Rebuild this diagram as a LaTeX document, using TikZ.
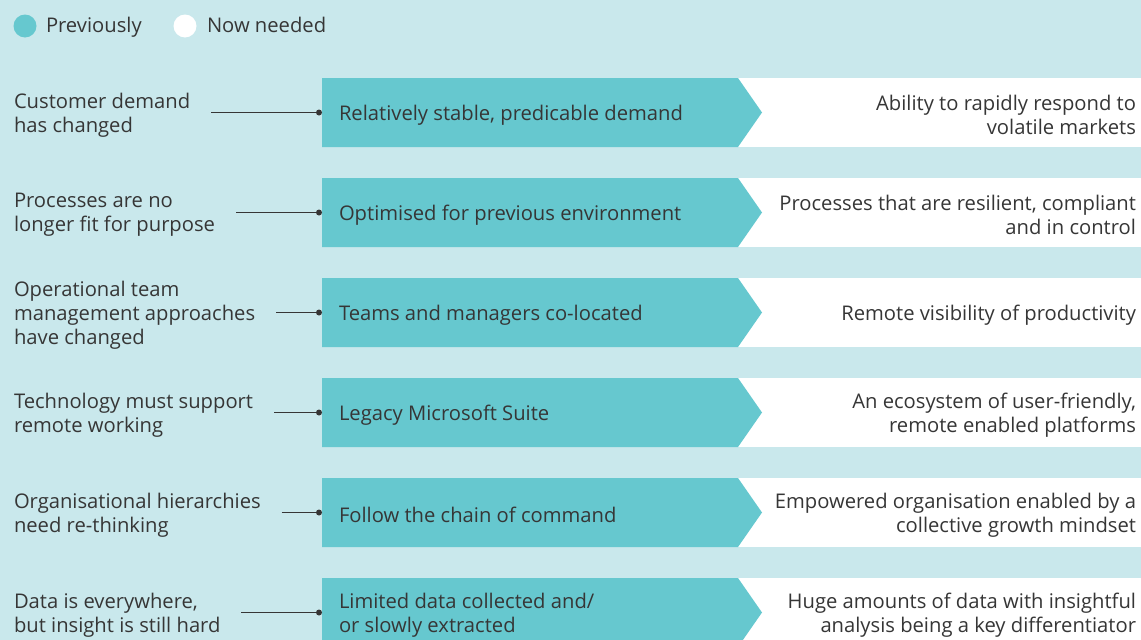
\documentclass[tikz,border=0pt]{standalone}
\usepackage{fontspec}
\setmainfont{Open Sans}
\definecolor{bgc}{HTML}{C9E8EC}
\definecolor{tealc}{HTML}{66C8CF}
\definecolor{txtc}{HTML}{363636}
\begin{document}
\begin{tikzpicture}[x=1pt,y=-1pt,
  every node/.style={inner sep=0pt,outer sep=0pt,text=txtc,font=\fontsize{20.2}{24}\selectfont},
  lefttxt/.style={anchor=west,align=left,yshift=-2.5pt},
  midtxt/.style={anchor=west,align=left,yshift=-2.5pt},
  righttxt/.style={anchor=east,align=right,yshift=-2.5pt},
  conn/.style={draw=txtc,line width=0.9pt},
  dotc/.style={circle,fill=txtc,minimum size=6pt},
  legdot/.style={circle,minimum size=23pt}]
\fill[bgc] (0,0) rectangle (1141,640);
\useasboundingbox (0,0) rectangle (1141,640);
% legend
\node[legdot,fill=tealc] (l1) at (25,26) {};
\node[anchor=base west] (l1t) at (46,32) {Previously};
\node[legdot,fill=white] (l2) at (185,26) {};
\node[anchor=base west] (l2t) at (207,32) {Now needed};
% rows
\foreach \i/\y/\lt/\mt/\rt in {
 1/112.5/{Customer demand\\has changed}/{Relatively stable, predicable demand}/{Ability to rapidly respond to\\volatile markets},
 2/212.5/{Processes are no\\longer fit for purpose}/{Optimised for previous environment}/{Processes that are resilient, compliant\\and in control},
 3/312.5/{Operational team\\management approaches\\have changed}/{Teams and managers co-located}/{Remote visibility of productivity},
 4/412.5/{Technology must support\\remote working}/{Legacy Microsoft Suite}/{An ecosystem of user-friendly,\\remote enabled platforms},
 5/512.5/{Organisational hierarchies\\need re-thinking}/{Follow the chain of command}/{Empowered organisation enabled by a\\collective growth mindset},
 6/612.5/{Data is everywhere,\\but insight is still hard}/{Limited data collected and/\\or slowly extracted}/{Huge amounts of data with insightful\\analysis being a key differentiator}}{
  \fill[white] (700,\y-34.5) rectangle (1141,\y+34.5);
  \fill[tealc] (322,\y-34.5) -- (738,\y-34.5) -- (762,\y) -- (738,\y+34.5) -- (322,\y+34.5) -- cycle;
  \node[lefttxt] (left\i) at (14,\y) {\lt};
  \node[midtxt] (mid\i) at (339,\y) {\mt};
  \node[righttxt] (right\i) at (1136,\y) {\rt};
  \node[dotc] (dot\i) at (319,\y) {};
  \coordinate (e\i) at ([xshift=21pt]left\i.east);
  \coordinate (start\i) at (e\i |- dot\i.center);
  \draw[conn] (start\i) -- (dot\i.center);
}
\end{tikzpicture}
\end{document}
